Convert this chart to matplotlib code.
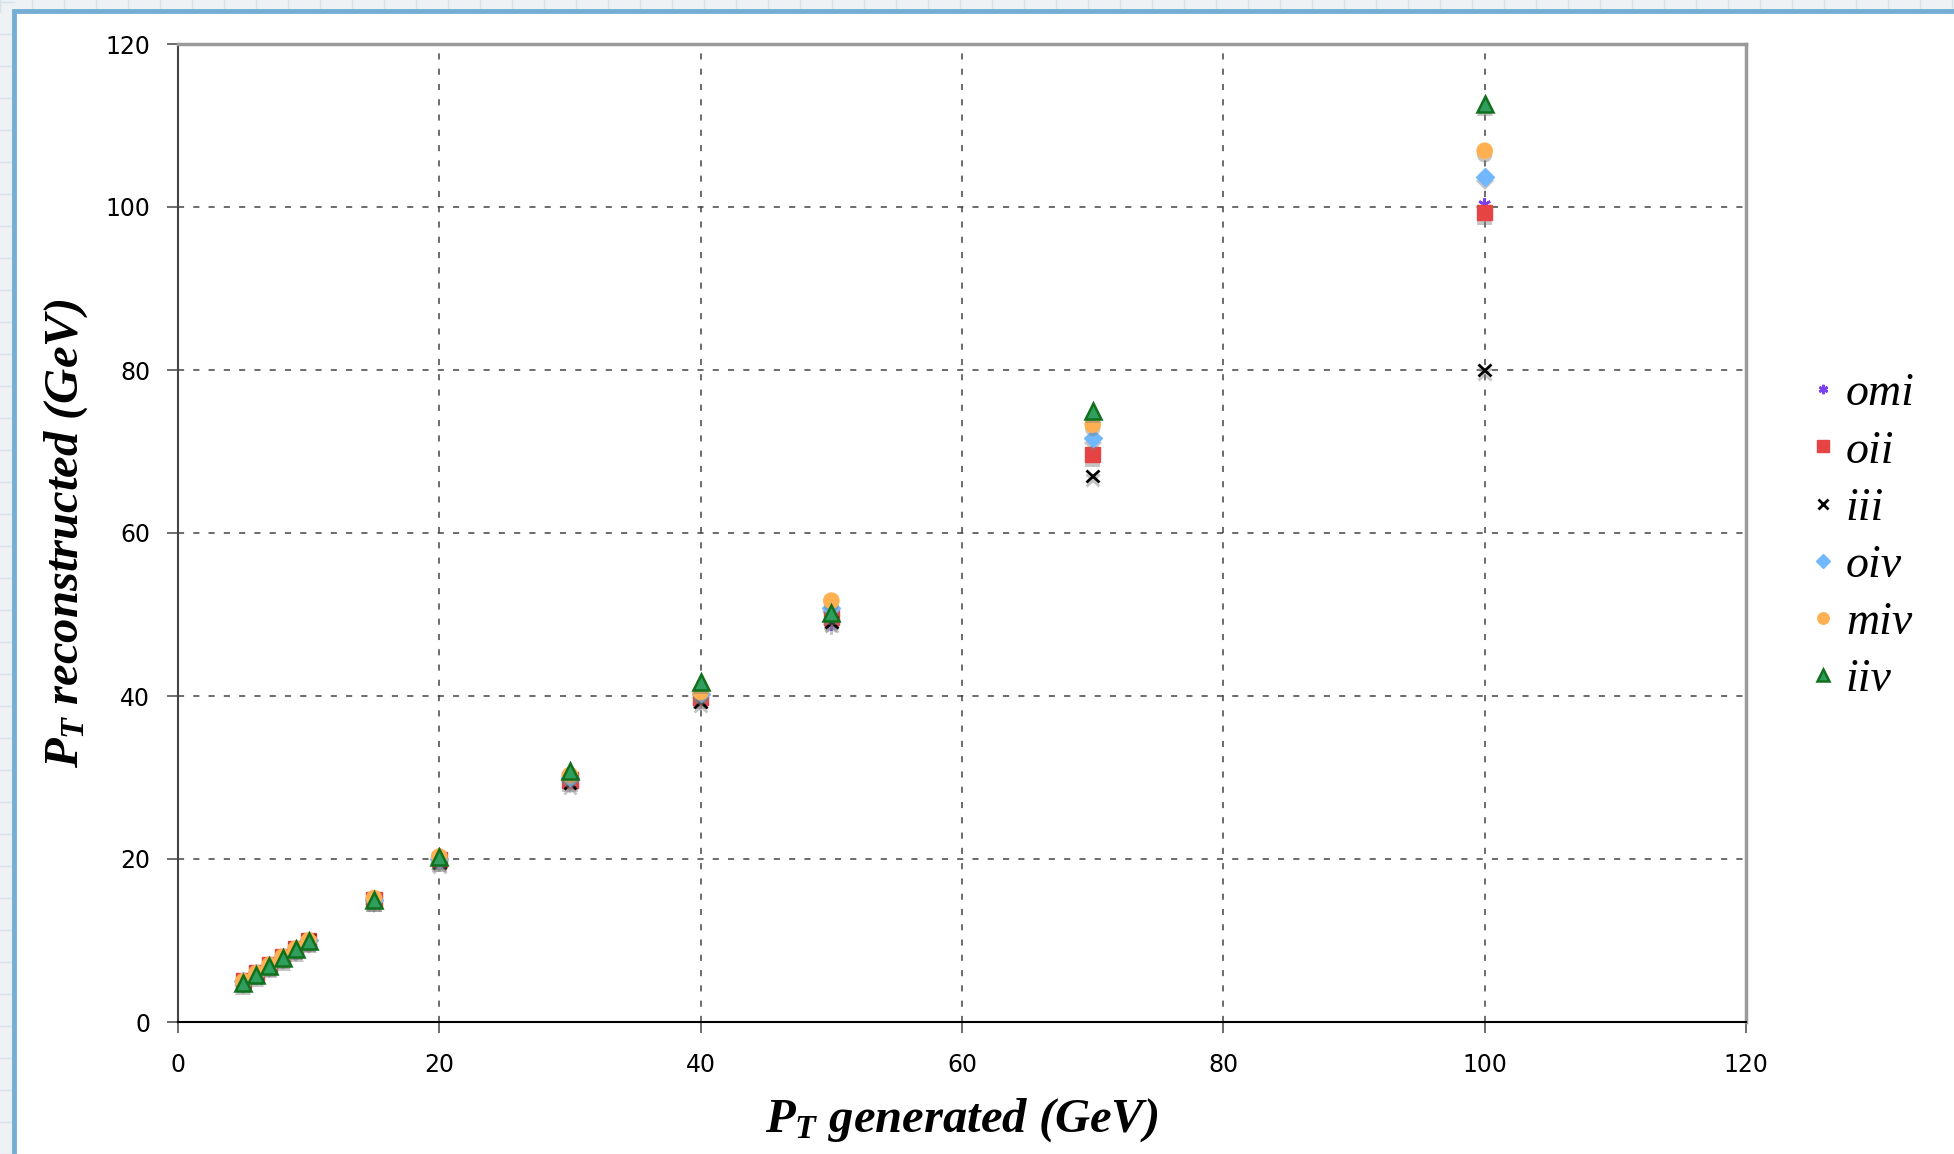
import matplotlib
matplotlib.use('Agg')
import matplotlib.pyplot as plt
import matplotlib.patheffects as pe
from matplotlib.patches import Rectangle
from matplotlib.lines import Line2D

# P_T generated (GeV)
pt_gen = [5, 6, 7, 8, 9, 10, 15, 20, 30, 40, 50, 70, 100]

# P_T reconstructed (GeV), one list per sample
omi = [4.9, 5.9, 6.9, 7.9, 8.9, 9.9, 14.8, 19.7, 29.4, 39.5, 48.8, 70.0, 100.3]
oii = [5.1, 6.0, 7.0, 8.0, 9.0, 10.0, 15.0, 19.9, 29.7, 39.8, 49.6, 69.6, 99.3]
iii = [5.0, 6.0, 7.0, 8.0, 9.0, 10.0, 14.9, 19.6, 29.3, 39.3, 49.1, 67.0, 80.0]
oiv = [5.0, 6.0, 7.0, 8.0, 9.0, 10.0, 15.0, 20.0, 30.0, 40.3, 50.8, 71.6, 103.7]
miv = [5.0, 6.0, 7.0, 8.0, 9.0, 10.0, 15.2, 20.3, 30.3, 40.5, 51.7, 73.3, 106.9]
iiv = [4.8, 5.8, 6.9, 7.8, 8.9, 9.9, 15.0, 20.2, 30.8, 41.7, 50.2, 75.0, 112.6]

ticks = [0, 20, 40, 60, 80, 100, 120]

plt.rcParams['mathtext.fontset'] = 'custom'
plt.rcParams['mathtext.it'] = 'Liberation Serif:bold:italic'
plt.rcParams['mathtext.rm'] = 'Liberation Serif:bold:italic'

fig = plt.figure(figsize=(19.54, 11.54), dpi=100)

# spreadsheet background with the chart window on top
W, H = 1954, 1154
fig.patches.append(Rectangle((0, 0), 1, 1, transform=fig.transFigure,
                             facecolor='#eef2f5', edgecolor='none', zorder=-10))
for xp in range(0, W, 32):
    fig.lines.append(Line2D([xp / W, xp / W], [1 - 12 / H, 1], transform=fig.transFigure,
                            color='#d6e2ea', lw=1, zorder=-9))
for yp in range(0, H, 32):
    fig.lines.append(Line2D([0, 14 / W], [yp / H, yp / H], transform=fig.transFigure,
                            color='#d6e2ea', lw=1, zorder=-9))
fig.patches.append(Rectangle((14 / W, -0.01), 1.0, 1 - 11 / H + 0.01,
                             transform=fig.transFigure, facecolor='white',
                             edgecolor='#74aed4', linewidth=3.5, zorder=-8))

ax = fig.add_axes([178 / W, 1 - 1022 / H, (1746 - 178) / W, (1022 - 44) / H])
ax.set_facecolor('white')

shadow = [pe.SimplePatchShadow(offset=(0, -3), shadow_rgbFace='#808080', alpha=0.45), pe.Normal()]
lshadow = [pe.SimpleLineShadow(offset=(0, -3), shadow_color='#808080', alpha=0.45), pe.Normal()]

ax.plot(pt_gen, omi, ls='none', marker=(6, 2, 0), ms=9, mew=1.8, color='#7b3ff2',
        label='omi', path_effects=lshadow)
ax.plot(pt_gen, oii, ls='none', marker='s', ms=11, color='#e64444', mec='#e64444',
        label='oii', path_effects=shadow)
ax.plot(pt_gen, iii, ls='none', marker='x', ms=9, mew=2, color='black',
        label='iii', path_effects=lshadow)
ax.plot(pt_gen, oiv, ls='none', marker='D', ms=9, color='#72b8ff', mec='#72b8ff',
        label='oiv', path_effects=shadow)
ax.plot(pt_gen, miv, ls='none', marker='o', ms=11, color='#ffb052', mec='#ffb052',
        label='miv', path_effects=shadow)
ax.plot(pt_gen, iiv, ls='none', marker='^', ms=11.5, mew=1.8, color='#2f9e5e', mec='#11701c',
        label='iiv', path_effects=shadow)

ax.set_xlim(0, 120)
ax.set_ylim(0, 120)
ax.set_xticks(ticks)
ax.set_yticks(ticks)
ax.grid(True, ls=(0, (4, 6)), color='#444444', lw=1.1)
ax.set_axisbelow(True)
ax.tick_params(direction='out', length=8, width=1.2, color='#555555',
               labelsize=17, pad=12)
ax.tick_params(axis='x', pad=14)

for s in ['top', 'right']:
    ax.spines[s].set_color('#9a9a9a')
    ax.spines[s].set_linewidth(2.5)
ax.spines['left'].set_color('#444444')
ax.spines['left'].set_linewidth(1.5)
ax.spines['bottom'].set_color('black')
ax.spines['bottom'].set_linewidth(1.5)

lab = dict(family='Liberation Serif', style='italic', weight='bold', size=35)
ax.set_xlabel(r'$P_T$ generated (GeV)', labelpad=14, **lab)
ax.set_ylabel(r'$P_T$ reconstructed (GeV)', labelpad=11, **lab)

leg = ax.legend(loc='center left', bbox_to_anchor=(1768 / W, 1 - 537 / H),
                bbox_transform=fig.transFigure, frameon=False, markerscale=0.75,
                handlelength=0.6, handletextpad=0.2, labelspacing=0.32,
                prop=dict(family='Liberation Serif', style='italic', size=33))
for h in leg.legend_handles:
    h.set_path_effects([])

plt.savefig('out.png', dpi=100)
